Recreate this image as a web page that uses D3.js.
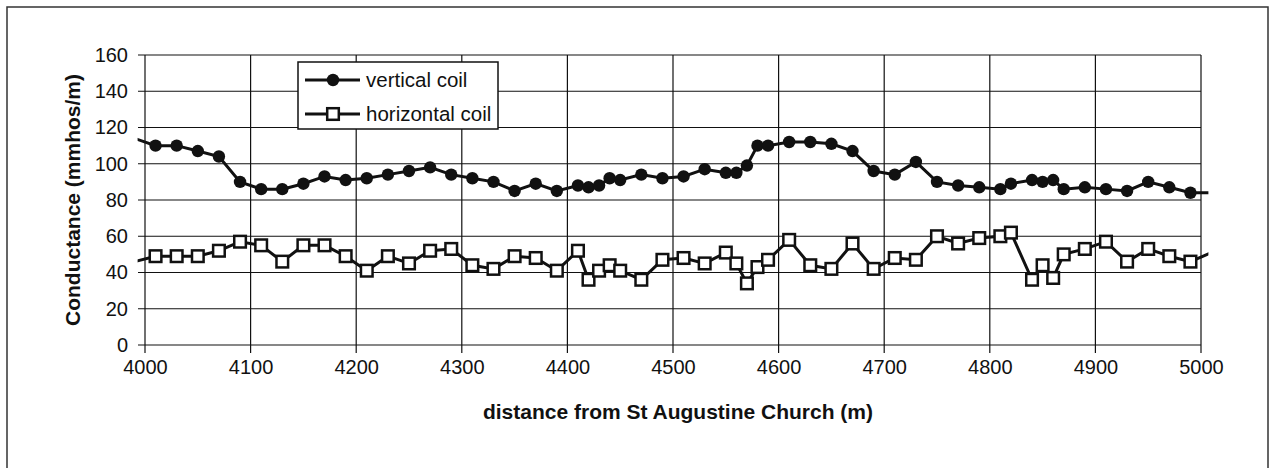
<!DOCTYPE html>
<html><head><meta charset="utf-8">
<script src="https://cdn.jsdelivr.net/npm/d3@7"></script>
<style>body{margin:0;background:#fff;}svg{display:block;font-family:"Liberation Sans",Arial,sans-serif;}</style>
</head><body>
<svg id="c" width="1274" height="468"></svg>
<script>
const distances = [3990,4010,4030,4050,4070,4090,4110,4130,4150,4170,4190,4210,4230,4250,4270,4290,4310,4330,4350,4370,4390,4410,4420,4430,4440,4450,4470,4490,4510,4530,4550,4560,4570,4580,4590,4610,4630,4650,4670,4690,4710,4730,4750,4770,4790,4810,4820,4840,4850,4860,4870,4890,4910,4930,4950,4970,4990,5010];
const verticalCoil = [114,110,110,107,104,90,86,86,89,93,91,92,94,96,98,94,92,90,85,89,85,88,87,88,92,91,94,92,93,97,95,95,99,110,110,112,112,111,107,96,94,101,90,88,87,86,89,91,90,91,86,87,86,85,90,87,84,84];
const horizontalCoil = [46,49,49,49,52,57,55,46,55,55,49,41,49,45,52,53,44,42,49,48,41,52,36,41,44,41,36,47,48,45,51,45,34,43,47,58,44,42,56,42,48,47,60,56,59,60,62,36,44,37,50,53,57,46,53,49,46,51];
const xTicks = [4000,4100,4200,4300,4400,4500,4600,4700,4800,4900,5000];
const yTicks = [0,20,40,60,80,100,120,140,160];
const seriesNames = ["vertical coil","horizontal coil"];
const xTitle = "distance from St Augustine Church (m)";
const yTitle = "Conductance (mmhos/m)";

const svg = d3.select("#c");
const L = 145, R = 1201, T = 55, B = 345;
const x = d3.scaleLinear().domain([4000,5000]).range([L,R]);
const y = d3.scaleLinear().domain([0,160]).range([B,T]);
const ink = "#111";

// outer frame (no bottom edge visible)
svg.append("path").attr("d","M7,470 L7,7 L1268,7 L1268,470").attr("fill","none").attr("stroke","#333").attr("stroke-width",1.5);

// gridlines
svg.append("g").selectAll("line").data(yTicks).join("line")
  .attr("x1",L-7).attr("x2",R).attr("y1",d=>y(d)).attr("y2",d=>y(d))
  .attr("stroke",ink).attr("stroke-width",1.2);
svg.append("g").selectAll("line").data(xTicks).join("line")
  .attr("x1",d=>x(d)).attr("x2",d=>x(d)).attr("y1",T).attr("y2",B+8)
  .attr("stroke",ink).attr("stroke-width",1.2);

// axis labels via d3 axes
const ya = svg.append("g").attr("transform",`translate(${L-8},0)`)
  .call(d3.axisLeft(y).tickValues(yTicks).tickSize(0).tickPadding(9));
ya.select(".domain").remove();
ya.selectAll("text").attr("font-size",20).attr("fill",ink).attr("font-family","Liberation Sans, Arial, sans-serif");
const xa = svg.append("g").attr("transform",`translate(0,${B+9})`)
  .call(d3.axisBottom(x).tickValues(xTicks).tickFormat(d3.format("d")).tickSize(0).tickPadding(6));
xa.select(".domain").remove();
xa.selectAll("text").attr("font-size",20).attr("fill",ink).attr("font-family","Liberation Sans, Arial, sans-serif");

// titles
svg.append("text").attr("x",(L+R)/2+5).attr("y",419).attr("text-anchor","middle")
  .attr("font-size",21).attr("font-weight","bold").attr("fill",ink).text(xTitle);
svg.append("text").attr("transform",`translate(80,${(T+B)/2}) rotate(-90)`).attr("text-anchor","middle")
  .attr("font-size",21).attr("font-weight","bold").attr("fill",ink).text(yTitle);

// clip
svg.append("clipPath").attr("id","clip").append("rect")
  .attr("x",x(3993)).attr("y",0).attr("width",x(5007)-x(3993)).attr("height",468);

const pts = (vals)=>distances.map((d,i)=>({d, v:vals[i]}));
const line = d3.line().x(p=>x(p.d)).y(p=>y(p.v));
const g = svg.append("g").attr("clip-path","url(#clip)");
const inRange = p=>p.d>=4000 && p.d<=5000;

g.append("path").datum(pts(verticalCoil)).attr("d",line).attr("fill","none").attr("stroke",ink).attr("stroke-width",3);
g.append("path").datum(pts(horizontalCoil)).attr("d",line).attr("fill","none").attr("stroke",ink).attr("stroke-width",3);
g.append("g").selectAll("circle").data(pts(verticalCoil).filter(inRange)).join("circle")
  .attr("cx",p=>x(p.d)).attr("cy",p=>y(p.v)).attr("r",6.2).attr("fill",ink);
g.append("g").selectAll("rect").data(pts(horizontalCoil).filter(inRange)).join("rect")
  .attr("x",p=>x(p.d)-5.8).attr("y",p=>y(p.v)-5.8).attr("width",11.6).attr("height",11.6)
  .attr("fill","#fff").attr("stroke",ink).attr("stroke-width",2.5);

// legend
const lg = svg.append("g");
lg.append("rect").attr("x",298).attr("y",62).attr("width",200).attr("height",67).attr("fill","#fff").attr("stroke",ink).attr("stroke-width",1.5);
const rows = [80,114];
seriesNames.forEach((name,i)=>{
  lg.append("line").attr("x1",305).attr("x2",360).attr("y1",rows[i]).attr("y2",rows[i]).attr("stroke",ink).attr("stroke-width",3);
  if(i===0) lg.append("circle").attr("cx",333).attr("cy",rows[i]).attr("r",6.2).attr("fill",ink);
  else lg.append("rect").attr("x",327.2).attr("y",rows[i]-5.8).attr("width",11.6).attr("height",11.6).attr("fill","#fff").attr("stroke",ink).attr("stroke-width",2.5);
  lg.append("text").attr("x",366).attr("y",rows[i]+7).attr("font-size",20.5).attr("fill",ink).text(name);
});
</script>
</body></html>
